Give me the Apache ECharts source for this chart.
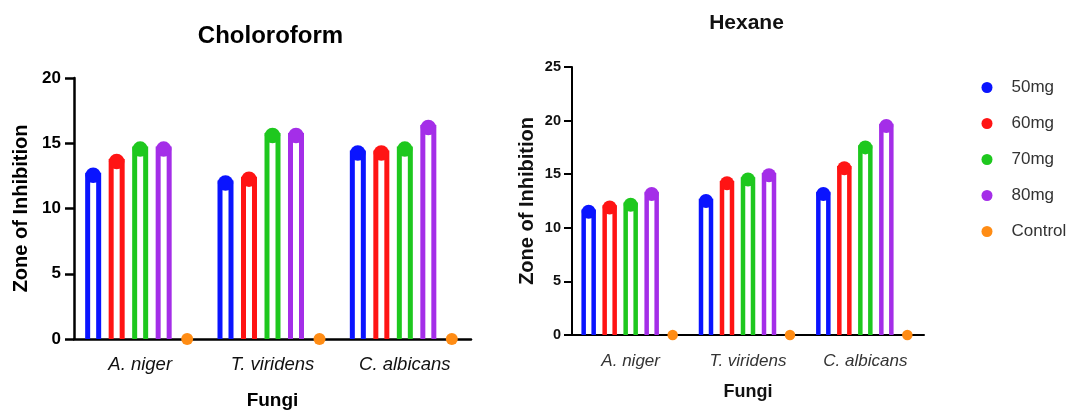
<!DOCTYPE html>
<html>
<head>
<meta charset="utf-8">
<script src="https://cdn.jsdelivr.net/npm/echarts@6/dist/echarts.min.js"></script>
<style>
html,body{margin:0;padding:0;background:#fff;}
#chart{width:1075px;height:412px;}
</style>
</head>
<body>
<div id="chart"></div>
<script>
// ---- data ----
const categories = ['A. niger', 'T. viridens', 'C. albicans'];
const seriesNames = ['50mg', '60mg', '70mg', '80mg', 'Control'];
const seriesColors = ['#0a14ff', '#ff1414', '#1ec81e', '#a42ee8', '#ff8c14'];

const chloroform50mg = [12.55, 11.95, 14.25];
const chloroform60mg = [13.6, 12.25, 14.25];
const chloroform70mg = [14.55, 15.6, 14.55];
const chloroform80mg = [14.55, 15.6, 16.2];
const chloroformControl = [0, 0, 0];

const hexane50mg = [11.5, 12.5, 13.15];
const hexane60mg = [11.9, 14.15, 15.55];
const hexane70mg = [12.15, 14.5, 17.5];
const hexane80mg = [13.15, 14.9, 19.5];
const hexaneControl = [0, 0, 0];

const chloroformYTicks = {min: 0, max: 20, interval: 5};
const hexaneYTicks = {min: 0, max: 25, interval: 5};

// ---- chart ----
const FONT = "'Liberation Sans', Arial, sans-serif";
const chloroformData = [chloroform50mg, chloroform60mg, chloroform70mg, chloroform80mg, chloroformControl];
const hexaneData = [hexane50mg, hexane60mg, hexane70mg, hexane80mg, hexaneControl];

const panels = [
  {data: chloroformData, barWidth: 16, border: 5, spacing: 23.5, cap: 15.5, dot: 12},
  {data: hexaneData, barWidth: 14.5, border: 4.5, spacing: 21, cap: 14, dot: 10.5}
];

const series = [];
panels.forEach((p, g) => {
  p.data.forEach((vals, i) => {
    const isControl = i === 4;
    const color = seriesColors[i];
    const off = (i - 2) * p.spacing;
    series.push({
      type: 'custom', name: seriesNames[i], xAxisIndex: g, yAxisIndex: g,
      data: vals.map((v, j) => [j, v]), encode: {x: 0, y: 1}, silent: true, z: 3,
      itemStyle: {color: color},
      renderItem: function (params, api) {
        const idx = api.value(0), v = api.value(1);
        const top = api.coord([idx, v]);
        const base = api.coord([idx, 0]);
        const cx = top[0] + off;
        const children = [];
        if (!isControl) {
          const hw = (p.barWidth - p.border) / 2;
          children.push({
            type: 'polyline',
            shape: {points: [[cx - hw, base[1]], [cx - hw, top[1]], [cx + hw, top[1]], [cx + hw, base[1]]]},
            style: {stroke: color, lineWidth: p.border, fill: null, lineJoin: 'miter'}
          });
        }
        children.push({
          type: 'circle',
          shape: {cx: cx, cy: top[1], r: (isControl ? p.dot : p.cap) / 2},
          style: {fill: color}
        });
        return {type: 'group', children: children};
      }
    });
  });
});

const chart = echarts.init(document.getElementById('chart'), null, {renderer: 'canvas'});
chart.setOption({
  animation: false,
  backgroundColor: '#ffffff',
  graphic: [
    {type: 'text', x: 270.5, y: 36, style: {text: 'Choloroform', font: 'bold 24px ' + FONT, fill: '#000', textAlign: 'center', textVerticalAlign: 'middle'}},
    {type: 'text', x: 746.5, y: 23, style: {text: 'Hexane', font: 'bold 21px ' + FONT, fill: '#111', textAlign: 'center', textVerticalAlign: 'middle'}}
  ],
  legend: {
    orient: 'vertical', left: 976.5, top: 74, icon: 'circle',
    itemWidth: 11, itemHeight: 11, itemGap: 19,
    textStyle: {fontFamily: FONT, fontSize: 17, color: '#333', padding: [0, 0, 0, 14]},
    data: seriesNames.map((n, i) => ({name: n, itemStyle: {color: seriesColors[i]}}))
  },
  grid: [
    {left: 74, top: 78, width: 397, height: 261, outerBoundsMode: 'none', containLabel: false},
    {left: 572, top: 67, width: 352, height: 268, outerBoundsMode: 'none', containLabel: false}
  ],
  xAxis: [
    {type: 'category', gridIndex: 0, data: categories,
     axisLine: {lineStyle: {color: '#000', width: 2.5}},
     axisTick: {alignWithLabel: true, length: 10, lineStyle: {color: '#000', width: 2.5}},
     axisLabel: {fontFamily: FONT, fontSize: 18.5, fontStyle: 'italic', color: '#111', margin: 16},
     name: 'Fungi', nameLocation: 'middle', nameGap: 52,
     nameTextStyle: {fontFamily: FONT, fontSize: 19, fontWeight: 'bold', color: '#000'}},
    {type: 'category', gridIndex: 1, data: categories,
     axisLine: {lineStyle: {color: '#000', width: 2}},
     axisTick: {alignWithLabel: true, length: 8, lineStyle: {color: '#000', width: 2}},
     axisLabel: {fontFamily: FONT, fontSize: 17, fontStyle: 'italic', color: '#333', margin: 18},
     name: 'Fungi', nameLocation: 'middle', nameGap: 48,
     nameTextStyle: {fontFamily: FONT, fontSize: 18, fontWeight: 'bold', color: '#111'}}
  ],
  yAxis: [
    {type: 'value', gridIndex: 0, min: chloroformYTicks.min, max: chloroformYTicks.max, interval: chloroformYTicks.interval,
     splitLine: {show: false},
     axisLine: {show: true, lineStyle: {color: '#000', width: 2.5}},
     axisTick: {show: true, length: 9, lineStyle: {color: '#000', width: 2.5}},
     axisLabel: {fontFamily: FONT, fontSize: 17, fontWeight: 'bold', color: '#000', margin: 13},
     name: 'Zone of Inhibition', nameLocation: 'middle', nameGap: 43, nameRotate: 90,
     nameTextStyle: {fontFamily: FONT, fontSize: 20, fontWeight: 'bold', color: '#000'}},
    {type: 'value', gridIndex: 1, min: hexaneYTicks.min, max: hexaneYTicks.max, interval: hexaneYTicks.interval,
     splitLine: {show: false},
     axisLine: {show: true, lineStyle: {color: '#000', width: 2}},
     axisTick: {show: true, length: 8, lineStyle: {color: '#000', width: 2}},
     axisLabel: {fontFamily: FONT, fontSize: 14.5, fontWeight: 'bold', color: '#111', margin: 11},
     name: 'Zone of Inhibition', nameLocation: 'middle', nameGap: 35, nameRotate: 90,
     nameTextStyle: {fontFamily: FONT, fontSize: 20, fontWeight: 'bold', color: '#111'}}
  ],
  series: series
});
</script>
</body>
</html>
